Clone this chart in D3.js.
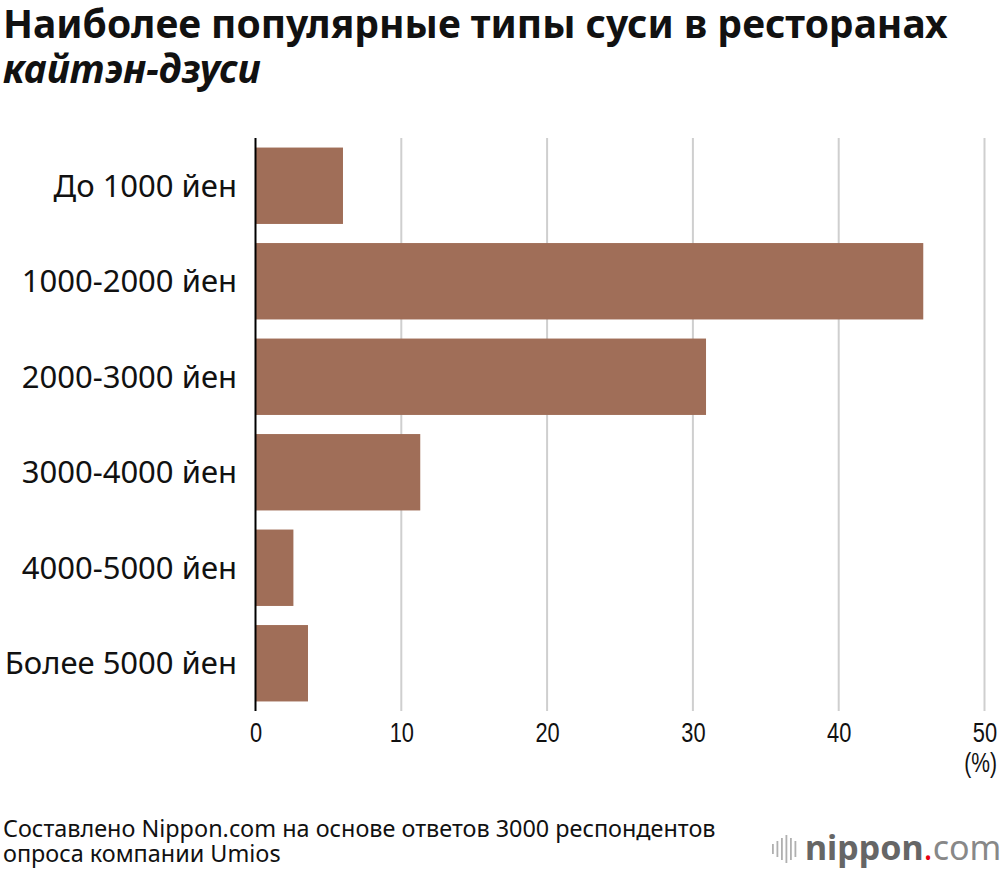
<!DOCTYPE html>
<html>
<head>
<meta charset="utf-8">
<script src="https://cdn.jsdelivr.net/npm/d3@7.9.0/dist/d3.min.js"></script>
<style>
  body { margin: 0; background: #fff; }
  svg { display: block; }
</style>
</head>
<body>
<svg width="1000" height="870"></svg>
<script>
const categories = ['До 1000 йен', '1000-2000 йен', '2000-3000 йен', '3000-4000 йен', '4000-5000 йен', 'Более 5000 йен'];
const shares = [6.0, 45.8, 30.9, 11.3, 2.6, 3.6];
const ticks = [0, 10, 20, 30, 40, 50];

const svg = d3.select('svg');

// title
const title = svg.append('text')
    .attr('font-family', 'Noto Sans, Open Sans, sans-serif')
    .attr('font-weight', 700)
    .attr('font-size', 39)
    .attr('fill', '#111');
title.append('tspan').attr('x', 3).attr('y', 38).text('Наиболее популярные типы суси в ресторанах');
title.append('tspan').attr('x', 3).attr('y', 83).attr('font-style', 'italic').text('кайтэн-дзуси');

// scales
const x = d3.scaleLinear().domain([0, 50]).range([255.5, 984.5]);
const y = d3.scaleBand().domain(categories).range([138, 711]).paddingInner(0.2).paddingOuter(0.1);

// gridlines
svg.append('g').selectAll('line')
    .data(ticks.filter(t => t > 0))
    .join('line')
    .attr('x1', d => x(d)).attr('x2', d => x(d))
    .attr('y1', 138).attr('y2', 711)
    .attr('stroke', '#cfcfcf').attr('stroke-width', 2);

// bars
svg.append('g').selectAll('rect')
    .data(shares)
    .join('rect')
    .attr('x', x(0))
    .attr('y', (d, i) => y(categories[i]))
    .attr('width', d => x(d) - x(0))
    .attr('height', y.bandwidth())
    .attr('fill', '#a06e58');

// zero line
svg.append('line')
    .attr('x1', x(0)).attr('x2', x(0))
    .attr('y1', 138).attr('y2', 711)
    .attr('stroke', '#000').attr('stroke-width', 2);

// category labels
svg.append('g').selectAll('text')
    .data(categories)
    .join('text')
    .attr('x', 237)
    .attr('y', d => y(d) + y.bandwidth() / 2)
    .attr('dy', '0.36em')
    .attr('text-anchor', 'end')
    .attr('font-family', 'Noto Sans, Open Sans, sans-serif')
    .attr('font-size', 31)
    .attr('fill', '#111')
    .text(d => d);

// x axis (condensed digits)
const xAxis = svg.append('g')
    .attr('transform', 'translate(0,711)')
    .call(d3.axisBottom(x).tickValues(ticks).tickSize(0).tickPadding(0));
xAxis.select('.domain').remove();
xAxis.selectAll('text')
    .attr('y', 31)
    .attr('dy', 0)
    .attr('transform', 'scale(0.78,1)')
    .attr('font-family', 'Liberation Sans, Arial, sans-serif')
    .attr('font-size', 28)
    .attr('fill', '#111');

svg.append('text')
    .attr('transform', 'translate(997,772) scale(0.78,1)')
    .attr('text-anchor', 'end')
    .attr('font-family', 'Liberation Sans, Arial, sans-serif')
    .attr('font-size', 27)
    .attr('fill', '#111')
    .text('(%)');

// source
const src = svg.append('text')
    .attr('font-family', 'Noto Sans, Open Sans, sans-serif')
    .attr('font-size', 23.4)
    .attr('fill', '#111');
src.append('tspan').attr('x', 3).attr('y', 837).text('Составлено Nippon.com на основе ответов 3000 респондентов');
src.append('tspan').attr('x', 3).attr('y', 862).text('опроса компании Umios');

// logo
const iconHeights = [10, 16, 22, 28, 22, 16];
svg.append('g').selectAll('rect')
    .data(iconHeights)
    .join('rect')
    .attr('x', (d, i) => 772 + i * 4.5)
    .attr('y', d => 849 - d / 2)
    .attr('width', 1.8)
    .attr('height', d => d)
    .attr('fill', '#b0b0b0');
const logo = svg.append('text')
    .attr('x', 805).attr('y', 860)
    .attr('font-family', 'Noto Sans, Open Sans, sans-serif')
    .attr('font-size', 34);
logo.append('tspan').attr('font-weight', 700).attr('fill', '#666').text('nippon');
logo.append('tspan').attr('fill', '#e60012').text('.');
logo.append('tspan').attr('fill', '#888').text('com');
</script>
</body>
</html>
